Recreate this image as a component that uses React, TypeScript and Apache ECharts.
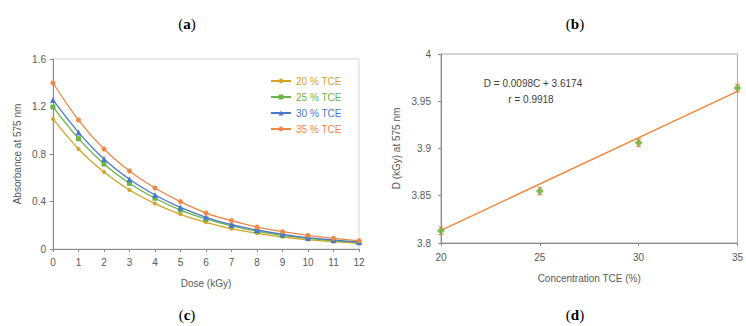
import React, { useEffect, useRef } from "react";
import * as echarts from "echarts";

// ---- Panel (c): absorbance vs dose ----
const doses = [0, 1, 2, 3, 4, 5, 6, 7, 8, 9, 10, 11, 12];
const tce20 = [1.095, 0.842, 0.648, 0.497, 0.382, 0.292, 0.225, 0.171, 0.132, 0.101, 0.079, 0.062, 0.048];
const tce25 = [1.196, 0.929, 0.716, 0.553, 0.427, 0.328, 0.253, 0.194, 0.149, 0.115, 0.09, 0.07, 0.053];
const tce30 = [1.255, 0.982, 0.758, 0.587, 0.455, 0.35, 0.267, 0.205, 0.16, 0.124, 0.095, 0.076, 0.059];
const tce35 = [1.398, 1.086, 0.842, 0.657, 0.514, 0.399, 0.303, 0.239, 0.185, 0.146, 0.115, 0.09, 0.07];
const seriesNamesC = ["20 % TCE", "25 % TCE", "30 % TCE", "35 % TCE"];
const yTicksC = [0, 0.4, 0.8, 1.2, 1.6];

// ---- Panel (d): D vs concentration ----
const concentrations = [20, 25, 30, 35];
const dValues = [3.813, 3.855, 3.906, 3.964];
const dErrors = [0.004, 0.004, 0.004, 0.004];
const fitX = [20, 35];
const fitY = [3.8134, 3.9604];
const yTicksD = [3.8, 3.85, 3.9, 3.95, 4];
const xTicksD = [20, 25, 30, 35];
const equationText = "D = 0.0098C + 3.6174";
const rText = "r = 0.9918";

const colors = ["#D4A42A", "#6DB446", "#4A78CC", "#EF8746"];
const symbols = ["circle", "rect", "triangle", "circle"];
const symbolSizes = [4, 5, 6, 5];
const axisColor = "#8a8a8a";
const textColor = "#595959";
const font = "Liberation Sans, Arial, sans-serif";

export default function App() {
  const ref = useRef<HTMLDivElement>(null);
  useEffect(() => {
    document.body.style.margin = "0";
    const chart = echarts.init(ref.current!, null, { renderer: "svg" });
    const dataC = [tce20, tce25, tce30, tce35];
    const axisCommon = {
      axisLine: { show: true, lineStyle: { color: axisColor, width: 1 } },
      axisTick: { show: true, length: 3, lineStyle: { color: axisColor } },
      axisLabel: { color: textColor, fontSize: 10, fontFamily: font },
      splitLine: { show: false },
      nameTextStyle: { color: textColor, fontSize: 10, fontFamily: font },
    };
    const panelLabel = (letter: string, x: number, y: number) => ({
      type: "text",
      x,
      y,
      style: {
        text: `{n|(}{b|${letter}}{n|)}`,
        rich: {
          n: { fontFamily: "Liberation Serif, serif", fontSize: 15, color: "#000" },
          b: { fontFamily: "Liberation Serif, serif", fontSize: 15, fontWeight: "bold", color: "#000" },
        },
        align: "center",
        verticalAlign: "middle",
      },
    });

    chart.setOption({
      animation: false,
      backgroundColor: "#ffffff",
      grid: [
        { left: 53, top: 59, width: 306, height: 190, show: true, borderColor: "#d4d4d4", borderWidth: 1, backgroundColor: "transparent" },
        { left: 441, top: 54, width: 301, height: 189, show: true, borderColor: "#a8a8a8", borderWidth: 1, backgroundColor: "transparent" },
      ],
      xAxis: [
        {
          ...axisCommon,
          gridIndex: 0,
          type: "value",
          min: doses[0],
          max: doses[doses.length - 1],
          interval: 1,
          name: "Dose (kGy)",
          nameLocation: "middle",
          nameGap: 29,
          axisLabel: { ...axisCommon.axisLabel, margin: 8 },
        },
        {
          ...axisCommon,
          gridIndex: 1,
          type: "value",
          min: xTicksD[0],
          max: xTicksD[xTicksD.length - 1],
          interval: 5,
          name: "Concentration TCE (%)",
          nameLocation: "middle",
          nameGap: 30,
          axisLabel: { ...axisCommon.axisLabel, margin: 9 },
        },
      ],
      yAxis: [
        {
          ...axisCommon,
          gridIndex: 0,
          type: "value",
          min: yTicksC[0],
          max: yTicksC[yTicksC.length - 1],
          interval: 0.4,
          name: "Absorbance at 575 nm",
          nameLocation: "middle",
          nameGap: 31,
          axisLabel: { ...axisCommon.axisLabel, margin: 7 },
        },
        {
          ...axisCommon,
          gridIndex: 1,
          type: "value",
          min: yTicksD[0],
          max: yTicksD[yTicksD.length - 1],
          interval: 0.05,
          name: "D (kGy) at 575 nm",
          nameLocation: "middle",
          nameGap: 40,
          axisLabel: { ...axisCommon.axisLabel, margin: 10 },
        },
      ],
      legend: {
        orient: "vertical",
        left: 265,
        top: 71,
        itemWidth: 20,
        itemHeight: 6,
        itemGap: 6,
        textStyle: { fontSize: 10, fontFamily: font },
        data: seriesNamesC.map((n, i) => ({ name: n, textStyle: { color: colors[i] } })),
      },
      series: [
        ...seriesNamesC.map((n, i) => ({
          name: n,
          type: "line",
          xAxisIndex: 0,
          yAxisIndex: 0,
          smooth: 0.35,
          data: doses.map((d, j) => [d, dataC[i][j]]),
          symbol: symbols[i],
          symbolSize: symbolSizes[i],
          itemStyle: { color: colors[i] },
          lineStyle: { color: colors[i], width: 1.3 },
          z: 2 + i,
        })),
        {
          name: "fit",
          type: "line",
          xAxisIndex: 1,
          yAxisIndex: 1,
          data: fitX.map((x, i) => [x, fitY[i]]),
          showSymbol: false,
          symbol: "none",
          lineStyle: { color: "#F0883E", width: 1.5 },
          z: 2,
        },
        {
          name: "err",
          type: "custom",
          xAxisIndex: 1,
          yAxisIndex: 1,
          data: concentrations.map((c, i) => [c, dValues[i], dErrors[i]]),
          encode: { x: 0, y: 1 },
          renderItem: (params: any, api: any) => {
            const x = api.value(0);
            const y = api.value(1);
            const e = api.value(2);
            const top = api.coord([x, y + e]);
            const bot = api.coord([x, y - e]);
            const w = 2.5;
            const st = { stroke: "#F0883E", lineWidth: 1 };
            return {
              type: "group",
              children: [
                { type: "line", shape: { x1: top[0], y1: top[1], x2: bot[0], y2: bot[1] }, style: st },
                { type: "line", shape: { x1: top[0] - w, y1: top[1], x2: top[0] + w, y2: top[1] }, style: st },
                { type: "line", shape: { x1: bot[0] - w, y1: bot[1], x2: bot[0] + w, y2: bot[1] }, style: st },
              ],
            };
          },
          z: 3,
        },
        {
          name: "points",
          type: "scatter",
          xAxisIndex: 1,
          yAxisIndex: 1,
          data: concentrations.map((c, i) => [c, dValues[i]]),
          symbol: "diamond",
          symbolSize: 8,
          itemStyle: { color: "#6AAE3A" },
          z: 4,
        },
      ],
      graphic: [
        panelLabel("a", 187, 24),
        panelLabel("b", 575, 24),
        panelLabel("c", 187, 315),
        panelLabel("d", 575, 315),
        {
          type: "text",
          x: 533,
          y: 83,
          style: { text: equationText, fill: "#404040", fontSize: 10, fontFamily: font, align: "center", verticalAlign: "middle" },
        },
        {
          type: "text",
          x: 531,
          y: 99,
          style: { text: rText, fill: "#404040", fontSize: 10, fontFamily: font, align: "center", verticalAlign: "middle" },
        },
      ],
    });
    return () => chart.dispose();
  }, []);
  return <div ref={ref} style={{ width: 746, height: 326 }} />;
}
